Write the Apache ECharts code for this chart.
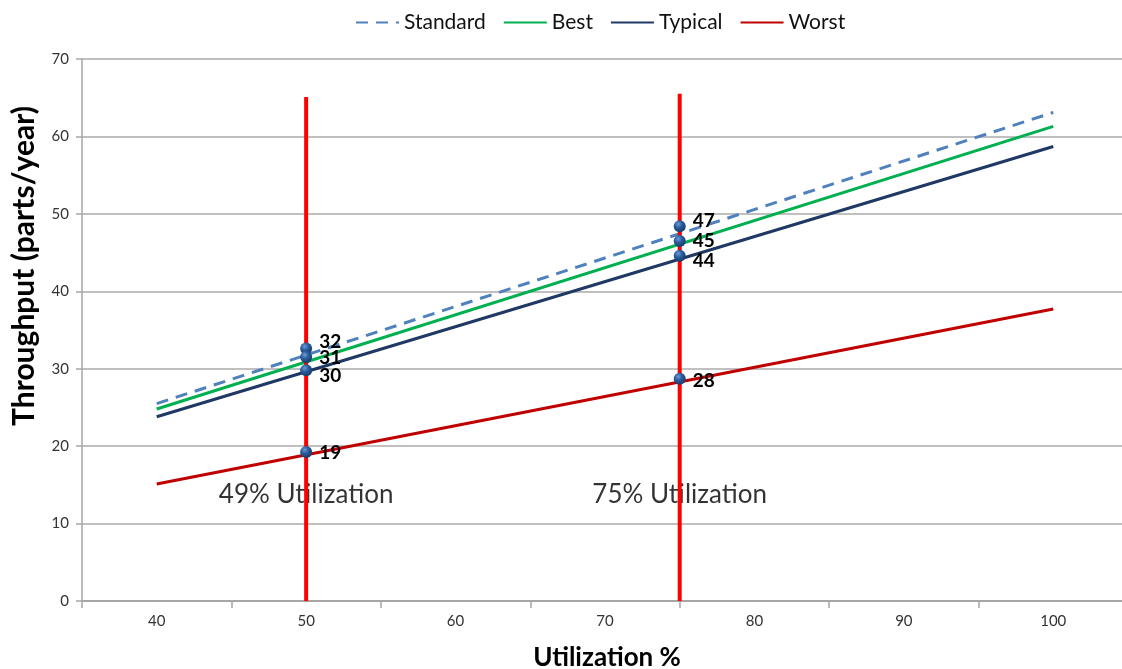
<!DOCTYPE html>
<html>
<head>
<meta charset="utf-8">
<script src="https://cdn.jsdelivr.net/npm/echarts@6/dist/echarts.min.js"></script>
<style>
  html, body { margin: 0; padding: 0; background: #fff; }
  #chart { width: 1122px; height: 669px; }
</style>
</head>
<body>
<div id="chart"></div>
<script>
// ---- data ----
const xEnds = [40, 100];
const standard = [25.5, 63.1];
const best = [24.8, 61.3];
const typical = [23.8, 58.7];
const worst = [15.1, 37.7];

const markerX = [50, 50, 50, 50, 75, 75, 75, 75];
const markerY = [32.6, 31.5, 29.8, 19.25, 48.4, 46.5, 44.6, 28.7];
const markerLabels = ['32', '31', '30', '19', '47', '45', '44', '28'];

const guideX = [50, 75];
const guideTop = [65.1, 65.5];

const noteText = ['49% Utilization', '75% Utilization'];
const noteX = [50, 75];
const noteY = [13.8, 13.8];

const xLabelValues = [40, 50, 60, 70, 80, 90, 100];
const xTickValues = [35, 45, 55, 65, 75, 85, 95];
const legendNames = ['Standard', 'Best', 'Typical', 'Worst'];

// ---- styling (kept separate from data) ----
const labelShift = [-7, 1, 6, 1, -5, 0, 5, 2];
const FONT = 'Lato, "Noto Sans", sans-serif';

function pairs(xs, ys) { return xs.map((x, i) => [x, ys[i]]); }

const chart = echarts.init(document.getElementById('chart'), null, { renderer: 'canvas' });

const mainLine = (name, vals, color, type) => ({
  name, type: 'line', data: pairs(xEnds, vals), symbol: 'none', showSymbol: false,
  z: 2, silent: true,
  lineStyle: { color, width: 3, type: type || 'solid' },
  itemStyle: { color }
});

const guides = guideX.map((gx, i) => ({
  name: 'guide' + i, type: 'line', data: [[gx, 0], [gx, guideTop[i]]],
  symbol: 'none', z: 4, silent: true,
  lineStyle: { color: '#FF0000', width: 4 }
}));

const markerSeries = {
  name: 'points', type: 'scatter', z: 6, symbol: 'circle', symbolSize: 12,
  silent: true,
  data: markerX.map((x, i) => ({
    value: [x, markerY[i]],
    label: { offset: [0, labelShift[i]] }
  })),
  itemStyle: {
    opacity: 1,
    color: new echarts.graphic.RadialGradient(0.38, 0.32, 0.7, [
      { offset: 0, color: '#6C9BD8' },
      { offset: 0.45, color: '#2B5C9C' },
      { offset: 1, color: '#173A68' }
    ])
  },
  label: {
    show: true, position: 'right', distance: 7,
    formatter: p => markerLabels[p.dataIndex],
    fontFamily: FONT, fontWeight: 'bold', fontSize: 19, color: '#000'
  }
};

const noteSeries = {
  name: 'notes', type: 'scatter', z: 1, symbolSize: 0, silent: true,
  data: pairs(noteX, noteY),
  label: {
    show: true, position: 'inside',
    formatter: p => noteText[p.dataIndex],
    fontFamily: FONT, fontSize: 26, color: '#000'
  }
};

chart.setOption({
  animation: false,
  backgroundColor: '#fff',
  textStyle: { fontFamily: FONT },
  legend: {
    data: legendNames,
    left: 350, top: 7,
    itemWidth: 43, itemHeight: 14, itemGap: 17,
    itemStyle: { opacity: 0, borderWidth: 0 },
    textStyle: { fontFamily: FONT, fontSize: 21, color: '#111' }
  },
  grid: { left: 82, right: 0, top: 59, bottom: 68, containLabel: false },
  xAxis: {
    type: 'value', min: 35, max: 104.6,
    axisLine: { show: true, lineStyle: { color: '#A6A6A6', width: 2 } },
    axisTick: { show: true, length: 7, lineStyle: { color: '#A6A6A6', width: 1.5 }, customValues: xTickValues },
    axisLabel: { customValues: xLabelValues, margin: 13, fontFamily: FONT, fontSize: 15, color: '#333' },
    splitLine: { show: false }
  },
  yAxis: {
    type: 'value', min: 0, max: 70, interval: 10,
    axisLine: { show: true, lineStyle: { color: '#A6A6A6', width: 1.5 } },
    axisTick: { show: true, length: 6, lineStyle: { color: '#A6A6A6', width: 1.5 } },
    axisLabel: { margin: 13, fontFamily: FONT, fontSize: 15, color: '#333' },
    splitLine: { show: true, lineStyle: { color: '#ABABAB', width: 1.5 } }
  },
  graphic: [
    {
      type: 'text', x: 24, y: 266, rotation: Math.PI / 2, silent: true,
      style: {
        text: 'Throughput (parts/year)', fontFamily: FONT, fontWeight: 'bold',
        fontSize: 30, fill: '#000', align: 'center', verticalAlign: 'middle'
      }
    },
    {
      type: 'text', x: 607, y: 658, silent: true,
      style: {
        text: 'Utilization %', fontFamily: FONT, fontWeight: 'bold',
        fontSize: 26, fill: '#000', align: 'center', verticalAlign: 'middle'
      }
    }
  ],
  series: [
    mainLine('Standard', standard, '#4F81BD', [12, 8]),
    mainLine('Best', best, '#00B050'),
    mainLine('Typical', typical, '#1F3864'),
    mainLine('Worst', worst, '#C00000'),
    ...guides,
    markerSeries,
    noteSeries
  ]
});
</script>
</body>
</html>
